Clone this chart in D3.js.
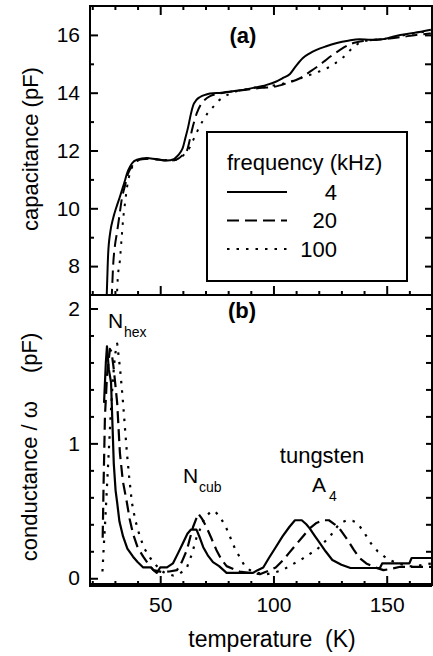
<!DOCTYPE html>
<html>
<head>
<meta charset="utf-8">
<script src="https://cdn.jsdelivr.net/npm/d3@7"></script>
<style>
  body { margin: 0; background: #fff; }
  svg { display: block; font-family: "Liberation Sans", Arial, Helvetica, sans-serif; }
</style>
</head>
<body>
<svg id="chart" width="433" height="656"></svg>
<script>

// capacitance (pF) vs temperature (K), panel (a)
var cap4 = [[26.3,6.8],[26.6,7.5],[27,8.4],[28,9.2],[29.2,9.65],[30.5,10.0],[32.2,10.4],[34,10.85],[35.8,11.3],[37.5,11.55],[39.7,11.68],[44,11.74],[48,11.7],[53,11.65],[56,11.7],[57.5,11.8],[59,11.95],[60,12.1],[61,12.4],[62.3,12.8],[63.5,13.25],[64.5,13.55],[66,13.75],[67.6,13.85],[70,13.93],[72,13.97],[77,14.0],[82,14.05],[90,14.15],[97,14.27],[101,14.38],[104,14.5],[107.3,14.65],[110,14.93],[113,15.2],[116,15.36],[119,15.48],[123,15.6],[128,15.72],[133,15.8],[138,15.85],[143,15.83],[148,15.85],[152,15.92],[156,16.0],[162,16.07],[169.5,16.18]];
var cap20 = [[28.5,6.8],[28.8,7.3],[29.2,8.0],[30,8.7],[30.9,9.15],[32,9.75],[33,10.3],[34.5,10.8],[35.8,11.2],[37.5,11.45],[39,11.6],[42,11.7],[46,11.72],[50,11.68],[55,11.65],[58,11.72],[60,11.85],[61.8,12.0],[63,12.35],[64,12.7],[65,13.0],[66.2,13.3],[68,13.6],[69.6,13.75],[72,13.88],[74.8,13.95],[80,14.02],[88,14.1],[95,14.17],[100,14.2],[106,14.33],[111.7,14.5],[116,14.72],[119,14.88],[122,15.06],[126,15.3],[129.4,15.48],[134,15.68],[141,15.8],[148,15.85],[156,15.92],[163,16.0],[169.5,16.05]];
var cap100 = [[30.8,6.8],[31.2,7.5],[32.2,8.2],[33,9.0],[33.6,9.6],[34.5,10.2],[35.3,10.7],[37,11.3],[38.5,11.55],[40,11.65],[44,11.72],[50,11.68],[56,11.66],[59,11.75],[61,11.9],[63,12.1],[64.5,12.35],[66,12.6],[67.5,12.85],[69,13.05],[71,13.3],[73.3,13.5],[75.5,13.7],[78,13.85],[82,14.0],[88,14.12],[94,14.2],[100,14.25],[106,14.35],[112,14.5],[119,14.7],[123,14.82],[126.3,14.97],[130.7,15.22],[135,15.55],[138,15.72],[143,15.82],[148,15.85],[155,15.95],[162,16.05],[169.5,16.15]];

// conductance / omega (pF) vs temperature (K), panel (b)
var cond4 = [[25.2,1.3],[26,1.6],[26.5,1.72],[27.3,1.55],[28.3,1.45],[29,1.1],[29.5,0.85],[30.3,0.65],[31,0.56],[32,0.42],[33.6,0.31],[35.5,0.22],[38,0.16],[40,0.12],[42.5,0.08],[46,0.08],[47,0.06],[48.5,0.04],[50,0.08],[53,0.08],[55.6,0.11],[58,0.19],[60,0.26],[62,0.33],[63.5,0.36],[66,0.36],[67.5,0.3],[69,0.23],[71,0.17],[73.3,0.12],[76,0.09],[79.3,0.04],[91,0.04],[93,0.06],[95.5,0.08],[98,0.15],[101,0.23],[104,0.31],[107,0.38],[109.5,0.43],[112.5,0.43],[114.5,0.4],[116,0.37],[118,0.32],[120.5,0.26],[123,0.2],[126,0.135],[130,0.1],[134,0.076],[147,0.076],[148,0.11],[160,0.11],[161,0.15],[170,0.15]];
var cond20 = [[24.6,0.3],[25,0.7],[25.6,1.2],[26.5,1.5],[27.8,1.7],[28.5,1.68],[29.5,1.55],[31,1.3],[32.2,0.93],[33.5,0.72],[35.3,0.56],[36.5,0.44],[38,0.33],[40,0.23],[42.5,0.16],[45,0.1],[47,0.06],[51,0.045],[54,0.05],[57.4,0.06],[59.5,0.12],[61.8,0.21],[63.2,0.3],[64.5,0.38],[66.8,0.48],[68.5,0.44],[70.4,0.38],[72.5,0.3],[74.8,0.21],[77,0.14],[79.3,0.09],[85,0.05],[94,0.03],[97,0.05],[101,0.08],[104,0.13],[107,0.19],[110,0.25],[113,0.31],[116,0.37],[119,0.41],[122,0.43],[124.5,0.43],[127,0.4],[129.5,0.36],[132.5,0.29],[135.5,0.21],[138,0.15],[141,0.11],[145,0.08],[148.6,0.06],[152,0.07],[156,0.085],[170,0.085]];
var cond100 = [[24.5,0.05],[25,0.21],[25.8,0.45],[26.5,0.68],[28,1.17],[29,1.45],[30,1.65],[31,1.74],[32.3,1.55],[33.6,1.3],[34.5,1.1],[35.3,0.93],[36.3,0.75],[37.5,0.56],[39,0.43],[41,0.31],[43,0.22],[45.6,0.15],[48,0.1],[50,0.06],[52,0.04],[55.7,0.02],[58,0.03],[60,0.05],[61.8,0.08],[64,0.18],[66,0.3],[68,0.38],[69.6,0.45],[72.8,0.5],[74.5,0.49],[76.6,0.45],[79,0.38],[81,0.3],[83,0.22],[85,0.16],[87,0.1],[89.6,0.06],[93,0.04],[97,0.03],[100,0.04],[104,0.06],[108,0.1],[112,0.135],[115,0.17],[119,0.21],[122,0.26],[125,0.31],[127.5,0.37],[129.5,0.41],[132.5,0.43],[135,0.425],[137,0.41],[140,0.34],[143,0.26],[146,0.2],[149,0.16],[152,0.13],[155,0.11],[158.5,0.095],[162,0.085],[166,0.1],[170,0.11]];

// legend / tick labels
var freqs = ["4", "20", "100"];
var dashes = [null, "12,6", "2.5,7"];
var xTicks = [50, 100, 150];
var capTicks = [8, 10, 12, 14, 16];
var condTicks = [0, 1, 2];

var svg = d3.select("#chart");

// plot edges (px)
var pLeft = 90, pRight = 432, pTop = 6, pMid = 295, pBottom = 585;

var x = d3.scaleLinear().domain([19, 170]).range([pLeft, pRight]);
var yA = d3.scaleLinear().domain([7, 17]).range([pMid, pTop]);
var yB = d3.scaleLinear().domain([-0.05, 2.1]).range([pBottom, pMid]);

var defs = svg.append("defs");
defs.append("clipPath").attr("id", "clipA").append("rect")
  .attr("x", pLeft).attr("y", pTop).attr("width", pRight - pLeft).attr("height", pMid - pTop);
defs.append("clipPath").attr("id", "clipB").append("rect")
  .attr("x", pLeft).attr("y", pMid).attr("width", pRight - pLeft).attr("height", pBottom - pMid);

var minorX = d3.range(20, 171, 10).filter(function (d) { return d % 50 !== 0; });

function styleAxis(g) {
  g.select(".domain").remove();
  g.selectAll("line").attr("stroke", "#000").attr("stroke-width", 2);
  g.selectAll("text").attr("font-size", 21).attr("fill", "#000").attr("font-family", null);
}

// ---------- panel (a) ----------
svg.append("g").attr("transform", "translate(" + pLeft + ",0)")
  .call(d3.axisLeft(yA).tickValues(capTicks).tickSize(-8).tickPadding(10).tickFormat(d3.format("d")))
  .call(styleAxis);
svg.append("g").attr("transform", "translate(" + pLeft + ",0)")
  .call(d3.axisLeft(yA).tickValues([9, 11, 13, 15]).tickSize(-4).tickFormat(""))
  .call(styleAxis);
svg.append("g").attr("transform", "translate(" + pRight + ",0)")
  .call(d3.axisRight(yA).tickValues(d3.range(8, 17, 1)).tickSize(-7).tickFormat(""))
  .call(styleAxis);
svg.append("g").attr("transform", "translate(0," + pTop + ")")
  .call(d3.axisTop(x).tickValues(xTicks).tickSize(-9).tickFormat(""))
  .call(styleAxis);
svg.append("g").attr("transform", "translate(0," + pTop + ")")
  .call(d3.axisTop(x).tickValues(minorX).tickSize(-4).tickFormat(""))
  .call(styleAxis);
svg.append("g").attr("transform", "translate(0," + pMid + ")")
  .call(d3.axisBottom(x).tickValues(xTicks).tickSize(-9).tickFormat(""))
  .call(styleAxis);
svg.append("g").attr("transform", "translate(0," + pMid + ")")
  .call(d3.axisBottom(x).tickValues(minorX).tickSize(-4).tickFormat(""))
  .call(styleAxis);

var lineA = d3.line().x(function (d) { return x(d[0]); }).y(function (d) { return yA(d[1]); })
  .curve(d3.curveMonotoneX);
var gA = svg.append("g").attr("clip-path", "url(#clipA)");
[cap4, cap20, cap100].forEach(function (s, i) {
  gA.append("path").attr("d", lineA(s)).attr("fill", "none").attr("stroke", "#000")
    .attr("stroke-width", 2).attr("stroke-dasharray", dashes[i]);
});

// ---------- panel (b) ----------
svg.append("g").attr("transform", "translate(" + pLeft + ",0)")
  .call(d3.axisLeft(yB).tickValues(condTicks).tickSize(-8).tickPadding(10).tickFormat(d3.format("d")))
  .call(styleAxis);
var minorB = d3.range(1, 10).map(function (d) { return d * 0.2; }).filter(function (d) { return Math.abs(d - 1) > 0.01; });
svg.append("g").attr("transform", "translate(" + pLeft + ",0)")
  .call(d3.axisLeft(yB).tickValues(minorB).tickSize(-4).tickFormat(""))
  .call(styleAxis);
svg.append("g").attr("transform", "translate(" + pRight + ",0)")
  .call(d3.axisRight(yB).tickValues(d3.range(1, 11).map(function (d) { return d * 0.2; })).tickSize(-6).tickFormat(""))
  .call(styleAxis);
svg.append("g").attr("transform", "translate(0," + pBottom + ")")
  .call(d3.axisBottom(x).tickValues(xTicks).tickSize(-9).tickPadding(12))
  .call(styleAxis);
svg.append("g").attr("transform", "translate(0," + pBottom + ")")
  .call(d3.axisBottom(x).tickValues(minorX).tickSize(-4).tickFormat(""))
  .call(styleAxis);

var lineB = d3.line().x(function (d) { return x(d[0]); }).y(function (d) { return yB(d[1]); });
var gB = svg.append("g").attr("clip-path", "url(#clipB)");
[cond4, cond20, cond100].forEach(function (s, i) {
  gB.append("path").attr("d", lineB(s)).attr("fill", "none").attr("stroke", "#000")
    .attr("stroke-width", 2.2).attr("stroke-linejoin", "round").attr("stroke-dasharray", dashes[i]);
});

// frames
svg.append("rect").attr("x", pLeft).attr("y", pTop).attr("width", pRight - pLeft).attr("height", pBottom - pTop)
  .attr("fill", "none").attr("stroke", "#000").attr("stroke-width", 2);
svg.append("line").attr("x1", pLeft).attr("x2", pRight).attr("y1", pMid).attr("y2", pMid)
  .attr("stroke", "#000").attr("stroke-width", 2);
svg.append("line").attr("x1", pLeft - 1).attr("x2", pRight).attr("y1", pBottom).attr("y2", pBottom)
  .attr("stroke", "#000").attr("stroke-width", 4);

// axis titles
svg.append("text").attr("transform", "translate(38,149) rotate(-90)")
  .attr("text-anchor", "middle").attr("font-size", 22).text("capacitance (pF)");
var t = svg.append("text").attr("transform", "translate(37,447) rotate(-90)")
  .attr("text-anchor", "middle").attr("font-size", 22);
t.append("tspan").text("conductance / ω");
t.append("tspan").attr("dx", 28).text("(pF)");
svg.append("text").attr("x", 272).attr("y", 647).attr("text-anchor", "middle")
  .attr("font-size", 23).style("white-space", "pre").text("temperature  (K)");

// panel labels
svg.append("text").attr("x", 243).attr("y", 43).attr("text-anchor", "middle")
  .attr("font-size", 22).attr("font-weight", "bold").text("(a)");
svg.append("text").attr("x", 242).attr("y", 318).attr("text-anchor", "middle")
  .attr("font-size", 22).attr("font-weight", "bold").text("(b)");

// annotations
function subLabel(xp, yp, main, sub, dx) {
  svg.append("text").attr("x", xp).attr("y", yp).attr("font-size", 21).text(main);
  svg.append("text").attr("x", xp + dx).attr("y", yp + 9).attr("font-size", 14).text(sub);
}
subLabel(108, 328, "N", "hex", 16);
subLabel(183, 483, "N", "cub", 16);
subLabel(312, 492, "A", "4", 17);
svg.append("text").attr("x", 322).attr("y", 463).attr("text-anchor", "middle")
  .attr("font-size", 22).text("tungsten");

// legend
var leg = svg.append("g");
leg.append("rect").attr("x", 207).attr("y", 132).attr("width", 200).attr("height", 149)
  .attr("fill", "#fff").attr("stroke", "#000").attr("stroke-width", 2);
leg.append("text").attr("x", 227).attr("y", 170).attr("font-size", 22).text("frequency (kHz)");
freqs.forEach(function (f, i) {
  var yy = 192 + i * 28.5;
  leg.append("line").attr("x1", 227).attr("x2", 287).attr("y1", yy).attr("y2", yy)
    .attr("stroke", "#000").attr("stroke-width", 2).attr("stroke-dasharray", dashes[i]);
  leg.append("text").attr("x", 337).attr("y", yy + 7.5).attr("text-anchor", "end")
    .attr("font-size", 22).text(f);
});

</script>
</body>
</html>
